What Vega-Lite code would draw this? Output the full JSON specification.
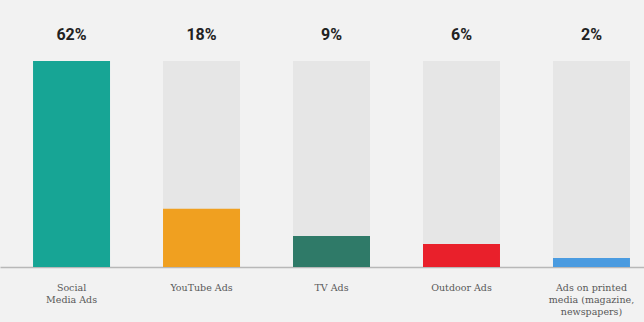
{
  "$schema": "https://vega.github.io/schema/vega-lite/v6.json",
  "autosize": {"type": "none"},
  "padding": {"left": 0, "right": 0, "top": 0, "bottom": 55},
  "width": 644,
  "height": 267,
  "background": "#f2f2f2",
  "config": {"view": {"stroke": null}},
  "data": {
    "values": [
      {"channel": "Social|Media Ads", "bar": 62, "bg": 62, "label": "62%", "color": "Social"},
      {"channel": "YouTube Ads", "bar": 17.5, "bg": 62, "label": "18%", "color": "YouTube"},
      {"channel": "TV Ads", "bar": 9.3, "bg": 62, "label": "9%", "color": "TV"},
      {"channel": "Outdoor Ads", "bar": 6.9, "bg": 62, "label": "6%", "color": "Outdoor"},
      {"channel": "Ads on printed|media (magazine,|newspapers)", "bar": 2.7, "bg": 62, "label": "2%", "color": "Printed"}
    ]
  },
  "encoding": {
    "x": {
      "field": "channel",
      "type": "nominal",
      "sort": null,
      "scale": {"paddingInner": 0.4077, "paddingOuter": 0.181, "align": 0.702},
      "axis": {
        "title": null,
        "labelAngle": 0,
        "labelExpr": "split(datum.label, '|')",
        "labelFont": "DejaVu Serif",
        "labelFontSize": 9.5,
        "labelColor": "#585858",
        "labelLineHeight": 12,
        "labelPadding": 20,
        "labelBaseline": "middle",
        "ticks": false,
        "domain": true,
        "domainColor": "#b8b8b8",
        "domainWidth": 1.5
      }
    }
  },
  "layer": [
    {
      "mark": {"type": "bar", "color": "#e6e6e6"},
      "encoding": {
        "y": {"field": "bg", "type": "quantitative", "scale": {"domain": [0, 80.36], "nice": false}, "axis": null}
      }
    },
    {
      "mark": {"type": "bar"},
      "encoding": {
        "y": {"field": "bar", "type": "quantitative", "scale": {"domain": [0, 80.36], "nice": false}, "axis": null},
        "color": {
          "field": "color",
          "type": "nominal",
          "scale": {
            "domain": ["Social", "YouTube", "TV", "Outdoor", "Printed"],
            "range": ["#17a595", "#f0a020", "#2f7a68", "#e9202b", "#4a9be0"]
          },
          "legend": null
        }
      }
    },
    {
      "mark": {"type": "text", "dy": -26, "baseline": "middle", "font": "Roboto", "fontWeight": "bold", "fontSize": 16, "color": "#222222"},
      "encoding": {
        "y": {"field": "bg", "type": "quantitative", "scale": {"domain": [0, 80.36], "nice": false}, "axis": null},
        "text": {"field": "label"}
      }
    }
  ]
}
